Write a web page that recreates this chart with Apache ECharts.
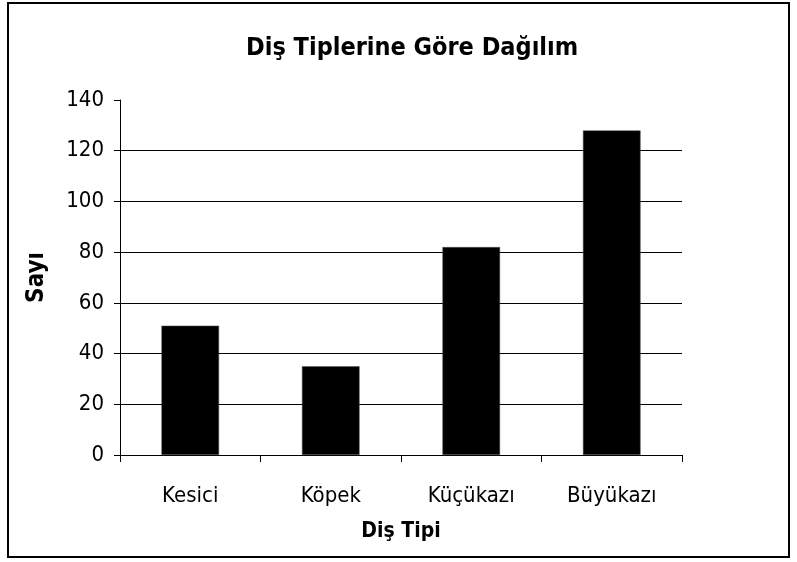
<!DOCTYPE html>
<html>
<head>
<meta charset="utf-8">
<script src="https://cdn.jsdelivr.net/npm/echarts@6/dist/echarts.min.js"></script>
<style>
  html, body { margin: 0; padding: 0; background: #fff; }
  #chart { width: 797px; height: 562px; }
</style>
</head>
<body>
<div id="chart"></div>
<script>
// chart data
const categories = ['Kesici', 'Köpek', 'Küçükazı', 'Büyükazı'];
const counts = [51, 35, 82, 128];
const yTicks = { min: 0, max: 140, interval: 20 };

const FONT = '"DejaVu Sans Condensed", "Liberation Sans", sans-serif';

const chart = echarts.init(document.getElementById('chart'), null, { renderer: 'canvas' });

chart.setOption({
  backgroundColor: '#fff',
  animation: false,
  textStyle: { fontFamily: FONT, color: '#000' },
  title: {
    text: 'Diş Tiplerine Göre Dağılım',
    left: 241,
    top: 31,
    textStyle: { fontFamily: FONT, fontSize: 25, fontWeight: 'bold', color: '#000' },
  },
  graphic: [
    {
      type: 'rect',
      shape: { x: 8, y: 3, width: 781, height: 554 },
      style: { fill: 'none', stroke: '#000', lineWidth: 2 },
      silent: true,
    },
  ],
  grid: {
    left: 120,
    right: 115,
    top: 100,
    bottom: 107,
  },
  xAxis: {
    type: 'category',
    data: categories,
    name: 'Diş Tipi',
    nameLocation: 'middle',
    nameGap: 66,
    nameTextStyle: { fontFamily: FONT, fontSize: 21, fontWeight: 'bold', color: '#000' },
    axisLine: { lineStyle: { color: '#000', width: 1 } },
    axisTick: { show: true, length: 7, lineStyle: { color: '#000' } },
    axisLabel: { fontFamily: FONT, fontSize: 22, color: '#000', margin: 30 },
  },
  yAxis: {
    type: 'value',
    min: yTicks.min,
    max: yTicks.max,
    interval: yTicks.interval,
    name: 'Sayı',
    nameLocation: 'middle',
    nameGap: 71,
    nameTextStyle: { fontFamily: FONT, fontSize: 24, fontWeight: 'bold', color: '#000' },
    axisLine: { show: true, lineStyle: { color: '#000', width: 1 } },
    axisTick: { show: true, length: 6, lineStyle: { color: '#000' } },
    axisLabel: { fontFamily: FONT, fontSize: 22, color: '#000', margin: 16 },
    splitLine: { show: true, showMaxLine: false, lineStyle: { color: '#000', width: 1 } },
  },
  series: [
    {
      type: 'bar',
      data: counts,
      barWidth: '41%',
      itemStyle: { color: '#000', borderColor: '#555', borderWidth: 0.5 },
    },
  ],
});
</script>
</body>
</html>
